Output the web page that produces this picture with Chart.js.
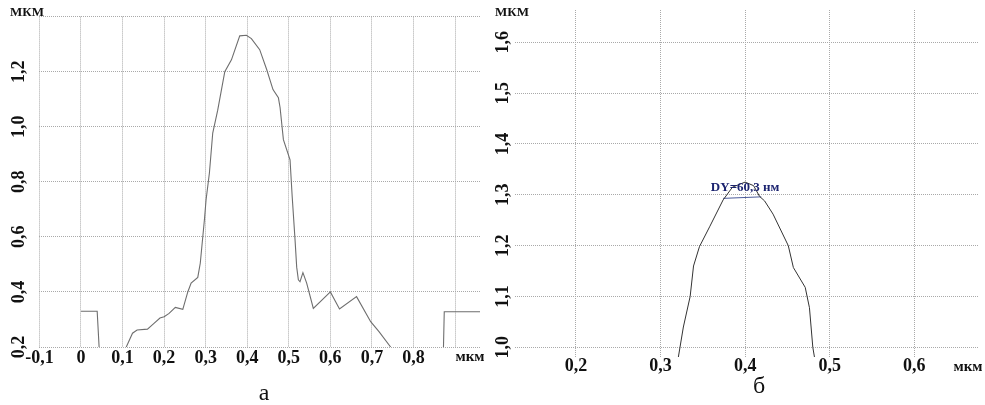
<!DOCTYPE html>
<html lang="ru">
<head>
  <meta charset="UTF-8">
  <title>Profile charts</title>
  <script src="https://cdn.jsdelivr.net/npm/chart.js"></script>
  <style>
    body {
      margin: 0;
      background: #fff;
      width: 985px;
      height: 405px;
      position: relative;
      overflow: hidden;
    }
    canvas {
      position: absolute;
      top: 0;
    }
    #chartA { left: 0; }
    #chartB { left: 490px; }
  </style>
</head>
<body>
  <canvas id="chartA" width="490" height="405"></canvas>
  <canvas id="chartB" width="495" height="405"></canvas>

  <script>
    // panel "а": full profile
    const xTicksA = [-0.1, 0, 0.1, 0.2, 0.3, 0.4, 0.5, 0.6, 0.7, 0.8, 0.9];
    const yTicksA = [0.2, 0.4, 0.6, 0.8, 1.0, 1.2, 1.4];
    const profileAx = [0.109, 0.124, 0.135, 0.16, 0.175, 0.19, 0.2, 0.212, 0.227, 0.245, 0.257, 0.265, 0.281, 0.287, 0.297, 0.301, 0.309, 0.317, 0.329, 0.346, 0.362, 0.382, 0.398, 0.41, 0.43, 0.447, 0.462, 0.475, 0.479, 0.487, 0.503, 0.508, 0.515, 0.519, 0.523, 0.527, 0.534, 0.543, 0.559, 0.6, 0.622, 0.663, 0.697, 0.717, 0.745];
    const profileAy = [0.2, 0.25, 0.262, 0.265, 0.285, 0.305, 0.31, 0.322, 0.344, 0.337, 0.4, 0.432, 0.453, 0.504, 0.662, 0.735, 0.832, 0.977, 1.06, 1.2, 1.243, 1.33, 1.332, 1.32, 1.28, 1.207, 1.135, 1.105, 1.07, 0.953, 0.88, 0.75, 0.59, 0.49, 0.444, 0.437, 0.47, 0.432, 0.34, 0.40, 0.338, 0.383, 0.292, 0.256, 0.2];
    const stepLeftX = [0, 0.039, 0.044];
    const stepLeftY = [0.33, 0.33, 0.19];
    const stepRightX = [0.872, 0.874, 0.97];
    const stepRightY = [0.19, 0.328, 0.328];

    // panel "б": zoom of the peak
    const xTicksB = [0.2, 0.3, 0.4, 0.5, 0.6];
    const yTicksB = [1.0, 1.1, 1.2, 1.3, 1.4, 1.5, 1.6];
    const profileBx = [0.321, 0.327, 0.335, 0.339, 0.346, 0.358, 0.374, 0.385, 0.40, 0.41, 0.417, 0.423, 0.433, 0.451, 0.457, 0.471, 0.476, 0.48, 0.482];
    const profileBy = [0.98, 1.04, 1.10, 1.16, 1.198, 1.237, 1.29, 1.315, 1.325, 1.318, 1.297, 1.288, 1.262, 1.2, 1.157, 1.118, 1.078, 1.0, 0.98];
    const dyX = [0.374, 0.419];
    const dyY = [1.293, 1.296];
    const dyLabel = 'DY=60,3 нм';

    const fmt = v => Math.abs(v) < 1e-9 ? '0' : v.toFixed(1).replace('.', ',');
    const toPoints = (xs, ys) => xs.map((x, i) => ({ x: x, y: ys[i] }));

    const tickFont = { family: "'Liberation Serif', 'Times New Roman', serif", size: 18, weight: 'bold' };
    const gridStyle = { color: '#a9a9a9', lineWidth: 1, drawTicks: false };

    function makeScales(o) {
      return {
        x: {
          type: 'linear',
          min: o.xMin, max: o.xMax,
          border: { display: false, dash: [1, 1] },
          grid: gridStyle,
          afterBuildTicks: s => { s.ticks = o.xTicks.map(v => ({ value: v })); },
          afterFit: s => {
            s.height = 30;
            s.paddingLeft = 0; s.paddingRight = 0;
          },
          ticks: {
            autoSkip: false, maxRotation: 0, minRotation: 0,
            padding: o.xPad,
            color: '#111',
            font: tickFont,
            callback: v => o.xHide.includes(v) ? '' : fmt(v)
          }
        },
        y: {
          type: 'linear',
          min: o.yMin, max: o.yMax,
          border: { display: false, dash: [1, 1] },
          grid: gridStyle,
          afterBuildTicks: s => { s.ticks = o.yTicks.map(v => ({ value: v })); },
          afterFit: s => {
            s.width = o.yWidth;
            s.paddingTop = 0; s.paddingBottom = 0;
          },
          ticks: {
            autoSkip: false, minRotation: 90, maxRotation: 90,
            crossAlign: 'center',
            padding: o.yPad,
            color: '#111',
            font: tickFont,
            callback: v => o.yHide.includes(v) ? '' : fmt(v)
          }
        }
      };
    }

    const extraText = {
      id: 'extraText',
      afterDraw(chart, args, opts) {
        const ctx = chart.ctx;
        ctx.save();
        (opts.items || []).forEach(t => {
          const x = typeof t.x === 'function' ? t.x(chart) : t.x;
          const y = typeof t.y === 'function' ? t.y(chart) : t.y;
          ctx.font = t.font;
          ctx.fillStyle = t.color || '#111';
          ctx.textAlign = t.align || 'center';
          ctx.textBaseline = t.baseline || 'middle';
          ctx.fillText(t.text, x, y);
        });
        ctx.restore();
      }
    };

    const unitFontTop = "bold 13px 'Liberation Serif', serif";
    const unitFontBottom = "bold 15px 'Liberation Serif', serif";
    const captionFont = "24px 'Liberation Serif', serif";

    function lineSet(points, color, width) {
      return {
        data: points,
        borderColor: color,
        borderWidth: width,
        pointRadius: 0,
        fill: false,
        tension: 0
      };
    }

    new Chart(document.getElementById('chartA'), {
      type: 'line',
      data: {
        datasets: [
          lineSet(toPoints(profileAx, profileAy), '#6e6e6e', 1.1),
          lineSet(toPoints(stepLeftX, stepLeftY), '#6e6e6e', 1.1),
          lineSet(toPoints(stepRightX, stepRightY), '#6e6e6e', 1.1)
        ]
      },
      options: {
        responsive: false,
        animation: false,
        layout: { padding: { top: 16.6, right: 10, bottom: 28, left: 0 } },
        scales: makeScales({
          xMin: -0.1, xMax: 0.96, xTicks: xTicksA, xHide: [0.9], xPad: 1,
          yMin: 0.2, yMax: 1.4, yTicks: yTicksA, yHide: [1.4], yPad: 9, yWidth: 39.4
        }),
        plugins: {
          legend: { display: false },
          tooltip: { enabled: false },
          extraText: {
            items: [
              { text: 'МКМ', x: 10, y: 13, align: 'left', font: unitFontTop },
              { text: 'мкм', x: 470, y: 357, font: unitFontBottom },
              { text: 'а', x: 264, y: 400, baseline: 'alphabetic', font: captionFont }
            ]
          }
        }
      },
      plugins: [extraText]
    });

    new Chart(document.getElementById('chartB'), {
      type: 'line',
      data: {
        datasets: [
          lineSet(toPoints(profileBx, profileBy), '#333', 1),
          lineSet(toPoints(dyX, dyY), '#4a5a9a', 1)
        ]
      },
      options: {
        responsive: false,
        animation: false,
        layout: { padding: { top: 10, right: 6, bottom: 18, left: 0 } },
        scales: makeScales({
          xMin: 0.128, xMax: 0.6764, xTicks: xTicksB, xHide: [], xPad: -1,
          yMin: 0.981, yMax: 1.6635, yTicks: yTicksB, yHide: [], yPad: 0, yWidth: 25
        }),
        plugins: {
          legend: { display: false },
          tooltip: { enabled: false },
          extraText: {
            items: [
              { text: 'МКМ', x: 5, y: 13, align: 'left', font: unitFontTop },
              { text: 'мкм', x: 478, y: 367, font: unitFontBottom },
              { text: 'б', x: 269, y: 393, baseline: 'alphabetic', font: captionFont },
              {
                text: dyLabel,
                x: c => c.scales.x.getPixelForValue(0.4),
                y: c => c.scales.y.getPixelForValue(1.3) - 7,
                color: '#1c2470',
                font: "bold 13px 'Liberation Serif', serif"
              }
            ]
          }
        }
      },
      plugins: [extraText]
    });
  </script>
</body>
</html>
